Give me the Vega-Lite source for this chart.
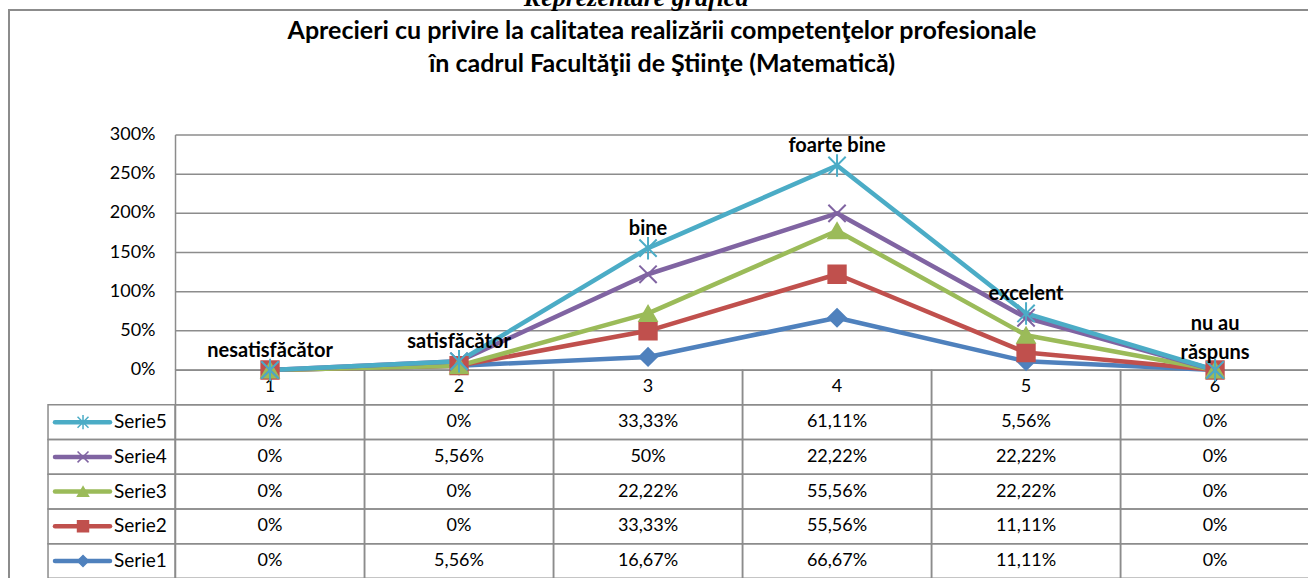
{
  "$schema": "https://vega.github.io/schema/vega-lite/v6.json",
  "width": 1300,
  "height": 570,
  "autosize": "none",
  "padding": {"left": 9, "top": 10, "right": 0, "bottom": 0},
  "background": "white",
  "title": {
    "text": ["Aprecieri cu privire la calitatea realizării competenţelor profesionale", "în cadrul Facultăţii de Ştiinţe (Matematică)"],
    "font": "Lato", "fontSize": 25, "fontWeight": "bold", "color": "#000000",
    "anchor": "middle", "offset": -92, "lineHeight": 33, "dx": 3
  },
  "datasets": {
    "d": [
      {"s": "Serie1", "n": 1, "c": 1, "cat": "nesatisfăcător", "v": 0},
      {"s": "Serie1", "n": 1, "c": 2, "cat": "satisfăcător", "v": 0.0556},
      {"s": "Serie1", "n": 1, "c": 3, "cat": "bine", "v": 0.1667},
      {"s": "Serie1", "n": 1, "c": 4, "cat": "foarte bine", "v": 0.6667},
      {"s": "Serie1", "n": 1, "c": 5, "cat": "excelent", "v": 0.1111},
      {"s": "Serie1", "n": 1, "c": 6, "cat": "nu au\nrăspuns", "v": 0},
      {"s": "Serie2", "n": 2, "c": 1, "cat": "nesatisfăcător", "v": 0},
      {"s": "Serie2", "n": 2, "c": 2, "cat": "satisfăcător", "v": 0},
      {"s": "Serie2", "n": 2, "c": 3, "cat": "bine", "v": 0.3333},
      {"s": "Serie2", "n": 2, "c": 4, "cat": "foarte bine", "v": 0.5556},
      {"s": "Serie2", "n": 2, "c": 5, "cat": "excelent", "v": 0.1111},
      {"s": "Serie2", "n": 2, "c": 6, "cat": "nu au\nrăspuns", "v": 0},
      {"s": "Serie3", "n": 3, "c": 1, "cat": "nesatisfăcător", "v": 0},
      {"s": "Serie3", "n": 3, "c": 2, "cat": "satisfăcător", "v": 0},
      {"s": "Serie3", "n": 3, "c": 3, "cat": "bine", "v": 0.2222},
      {"s": "Serie3", "n": 3, "c": 4, "cat": "foarte bine", "v": 0.5556},
      {"s": "Serie3", "n": 3, "c": 5, "cat": "excelent", "v": 0.2222},
      {"s": "Serie3", "n": 3, "c": 6, "cat": "nu au\nrăspuns", "v": 0},
      {"s": "Serie4", "n": 4, "c": 1, "cat": "nesatisfăcător", "v": 0},
      {"s": "Serie4", "n": 4, "c": 2, "cat": "satisfăcător", "v": 0.0556},
      {"s": "Serie4", "n": 4, "c": 3, "cat": "bine", "v": 0.5},
      {"s": "Serie4", "n": 4, "c": 4, "cat": "foarte bine", "v": 0.2222},
      {"s": "Serie4", "n": 4, "c": 5, "cat": "excelent", "v": 0.2222},
      {"s": "Serie4", "n": 4, "c": 6, "cat": "nu au\nrăspuns", "v": 0},
      {"s": "Serie5", "n": 5, "c": 1, "cat": "nesatisfăcător", "v": 0},
      {"s": "Serie5", "n": 5, "c": 2, "cat": "satisfăcător", "v": 0},
      {"s": "Serie5", "n": 5, "c": 3, "cat": "bine", "v": 0.3333},
      {"s": "Serie5", "n": 5, "c": 4, "cat": "foarte bine", "v": 0.6111},
      {"s": "Serie5", "n": 5, "c": 5, "cat": "excelent", "v": 0.0556},
      {"s": "Serie5", "n": 5, "c": 6, "cat": "nu au\nrăspuns", "v": 0}
    ],
    "ticks": [{"t": 0}, {"t": 0.5}, {"t": 1}, {"t": 1.5}, {"t": 2}, {"t": 2.5}, {"t": 3}],
    "cols": [{"c": 1, "h": "1"}, {"c": 2, "h": "2"}, {"c": 3, "h": "3"}, {"c": 4, "h": "4"}, {"c": 5, "h": "5"}, {"c": 6, "h": "6"}],
    "series": [{"s": "Serie1", "n": 1}, {"s": "Serie2", "n": 2}, {"s": "Serie3", "n": 3}, {"s": "Serie4", "n": 4}, {"s": "Serie5", "n": 5}]
  },
  "layer": [
    {
      "layer": [
        {
          "data": {"name": "d"},
          "mark": {"type": "rect", "width": 189, "height": 34.7, "fill": "#ffffff", "fillOpacity": 0, "stroke": "#8c8c8c", "strokeWidth": 1.5},
          "encoding": {
            "x": {"field": "c", "type": "quantitative", "scale": {"domain": [-0.381, 6.497], "nice": false, "zero": false}},
            "y": {"field": "n", "type": "quantitative", "scale": {"domain": [0.4524, 16.879], "nice": false, "zero": false}}
          }
        },
        {
          "data": {"name": "cols"},
          "mark": {"type": "rect", "width": 189, "height": 34.7, "fill": "#ffffff", "fillOpacity": 0, "stroke": "#8c8c8c", "strokeWidth": 1.5},
          "encoding": {
            "x": {"field": "c", "type": "quantitative", "scale": {"domain": [-0.381, 6.497], "nice": false, "zero": false}},
            "y": {"datum": 6, "scale": {"domain": [0.4524, 16.879], "nice": false, "zero": false}}
          }
        },
        {
          "data": {"name": "series"},
          "mark": {"type": "rect", "width": 127, "height": 34.7, "fill": "#ffffff", "fillOpacity": 0, "stroke": "#8c8c8c", "strokeWidth": 1.5},
          "encoding": {
            "x": {"datum": 0.1614, "scale": {"domain": [-0.381, 6.497], "nice": false, "zero": false}},
            "y": {"field": "n", "type": "quantitative", "scale": {"domain": [0.4524, 16.879], "nice": false, "zero": false}}
          }
        },
        {
          "data": {"name": "d"},
          "mark": {"type": "text", "font": "Lato", "fontSize": 18, "color": "#000000"},
          "encoding": {
            "x": {"field": "c", "type": "quantitative", "scale": {"domain": [-0.381, 6.497], "nice": false, "zero": false}},
            "y": {"field": "n", "type": "quantitative", "scale": {"domain": [0.4524, 16.879], "nice": false, "zero": false}},
            "text": {"field": "v", "type": "quantitative", "format": ".2~%"}
          }
        },
        {
          "data": {"name": "cols"},
          "mark": {"type": "text", "font": "Lato", "fontSize": 18, "color": "#000000"},
          "encoding": {
            "x": {"field": "c", "type": "quantitative", "scale": {"domain": [-0.381, 6.497], "nice": false, "zero": false}},
            "y": {"datum": 6, "scale": {"domain": [0.4524, 16.879], "nice": false, "zero": false}},
            "text": {"field": "h", "type": "nominal"}
          }
        },
        {
          "data": {"name": "series"},
          "mark": {"type": "rule", "strokeWidth": 4.5, "strokeCap": "round"},
          "encoding": {
            "x": {"datum": -0.1376, "scale": {"domain": [-0.381, 6.497], "nice": false, "zero": false}},
            "x2": {"datum": 0.1534},
            "y": {"field": "n", "type": "quantitative", "scale": {"domain": [0.4524, 16.879], "nice": false, "zero": false}},
            "color": {"field": "s", "type": "nominal", "scale": {"domain": ["Serie1", "Serie2", "Serie3", "Serie4", "Serie5"], "range": ["#4F81BD", "#C0504D", "#9BBB59", "#8064A2", "#4BACC6"]}}
          }
        },
        {
          "data": {"name": "series"},
          "mark": {"type": "point", "filled": true, "size": 120, "strokeWidth": 1.5, "opacity": 1},
          "encoding": {
            "x": {"datum": 0.0106, "scale": {"domain": [-0.381, 6.497], "nice": false, "zero": false}},
            "y": {"field": "n", "type": "quantitative", "scale": {"domain": [0.4524, 16.879], "nice": false, "zero": false}},
            "color": {"field": "s", "type": "nominal", "scale": {"domain": ["Serie1", "Serie2", "Serie3", "Serie4", "Serie5"], "range": ["#4F81BD", "#C0504D", "#9BBB59", "#8064A2", "#4BACC6"]}},
            "stroke": {"field": "s", "type": "nominal", "scale": {"domain": ["Serie1", "Serie2", "Serie3", "Serie4", "Serie5"], "range": ["#4F81BD", "#C0504D", "#9BBB59", "#8064A2", "#4BACC6"]}},
            "shape": {"field": "s", "type": "nominal", "scale": {"domain": ["Serie1", "Serie2", "Serie3", "Serie4", "Serie5"], "range": ["diamond", "square", "triangle-up", "M-1,-1L1,1M-1,1L1,-1", "M-1,-1L1,1M-1,1L1,-1M0,-1.3L0,1.3"]}}
          }
        },
        {
          "data": {"name": "series"},
          "mark": {"type": "text", "align": "left", "font": "Lato", "fontSize": 19, "color": "#000000"},
          "encoding": {
            "x": {"datum": 0.1746, "scale": {"domain": [-0.381, 6.497], "nice": false, "zero": false}},
            "y": {"field": "n", "type": "quantitative", "scale": {"domain": [0.4524, 16.879], "nice": false, "zero": false}},
            "text": {"field": "s", "type": "nominal"}
          }
        }
      ]
    },
    {
      "layer": [
        {
          "data": {"name": "ticks"},
          "mark": {"type": "rule", "color": "#8c8c8c", "strokeWidth": 1.5},
          "encoding": {
            "x": {"datum": 0.5, "scale": {"domain": [-0.381, 6.497], "nice": false, "zero": false}},
            "x2": {"datum": 6.7},
            "y": {"field": "t", "type": "quantitative", "scale": {"domain": [-2.681, 4.596], "nice": false, "zero": false}}
          }
        },
        {
          "data": {"name": "ticks"},
          "mark": {"type": "text", "align": "right", "dx": -20, "font": "Lato", "fontSize": 18, "color": "#000000"},
          "encoding": {
            "x": {"datum": 0.5, "scale": {"domain": [-0.381, 6.497], "nice": false, "zero": false}},
            "y": {"field": "t", "type": "quantitative", "scale": {"domain": [-2.681, 4.596], "nice": false, "zero": false}},
            "text": {"field": "t", "type": "quantitative", "format": ".0%"}
          }
        },
        {
          "data": {"name": "ticks"},
          "mark": {"type": "rule", "color": "#8c8c8c", "strokeWidth": 1.5},
          "encoding": {
            "x": {"datum": 0.5, "scale": {"domain": [-0.381, 6.497], "nice": false, "zero": false}},
            "y": {"aggregate": "min", "field": "t", "type": "quantitative", "scale": {"domain": [-2.681, 4.596], "nice": false, "zero": false}},
            "y2": {"aggregate": "max", "field": "t"}
          }
        },
        {
          "data": {"name": "d"},
          "mark": {"type": "line", "strokeWidth": 4.5, "strokeJoin": "round"},
          "encoding": {
            "x": {"field": "c", "type": "quantitative", "scale": {"domain": [-0.381, 6.497], "nice": false, "zero": false}},
            "y": {"field": "v", "type": "quantitative", "stack": "zero", "scale": {"domain": [-2.681, 4.596], "nice": false, "zero": false}},
            "order": {"field": "n", "type": "quantitative", "sort": "ascending"},
            "color": {"field": "s", "type": "nominal", "scale": {"domain": ["Serie1", "Serie2", "Serie3", "Serie4", "Serie5"], "range": ["#4F81BD", "#C0504D", "#9BBB59", "#8064A2", "#4BACC6"]}}
          }
        },
        {
          "data": {"name": "d"},
          "mark": {"type": "point", "filled": true, "size": 300, "strokeWidth": 2, "opacity": 1},
          "encoding": {
            "x": {"field": "c", "type": "quantitative", "scale": {"domain": [-0.381, 6.497], "nice": false, "zero": false}},
            "y": {"field": "v", "type": "quantitative", "stack": "zero", "scale": {"domain": [-2.681, 4.596], "nice": false, "zero": false}},
            "order": {"field": "n", "type": "quantitative", "sort": "ascending"},
            "color": {"field": "s", "type": "nominal", "scale": {"domain": ["Serie1", "Serie2", "Serie3", "Serie4", "Serie5"], "range": ["#4F81BD", "#C0504D", "#9BBB59", "#8064A2", "#4BACC6"]}},
            "stroke": {"field": "s", "type": "nominal", "scale": {"domain": ["Serie1", "Serie2", "Serie3", "Serie4", "Serie5"], "range": ["#4F81BD", "#C0504D", "#9BBB59", "#8064A2", "#4BACC6"]}},
            "shape": {"field": "s", "type": "nominal", "scale": {"domain": ["Serie1", "Serie2", "Serie3", "Serie4", "Serie5"], "range": ["diamond", "square", "triangle-up", "M-1,-1L1,1M-1,1L1,-1", "M-1,-1L1,1M-1,1L1,-1M0,-1.3L0,1.3"]}}
          }
        },
        {
          "data": {"name": "d"},
          "transform": [{"filter": "datum.c < 6"}],
          "mark": {"type": "text", "font": "Lato", "fontSize": 20, "fontWeight": "bold", "color": "#000000", "baseline": "bottom", "dy": -9},
          "encoding": {
            "x": {"field": "c", "type": "quantitative", "scale": {"domain": [-0.381, 6.497], "nice": false, "zero": false}},
            "y": {"aggregate": "sum", "field": "v", "type": "quantitative", "scale": {"domain": [-2.681, 4.596], "nice": false, "zero": false}},
            "text": {"field": "cat", "type": "nominal"}
          }
        },
        {
          "data": {"name": "d"},
          "transform": [{"filter": "datum.c == 6"}],
          "mark": {"type": "text", "font": "Lato", "fontSize": 20, "fontWeight": "bold", "color": "#000000", "baseline": "bottom", "dy": -36, "lineBreak": "\n", "lineHeight": 29},
          "encoding": {
            "x": {"field": "c", "type": "quantitative", "scale": {"domain": [-0.381, 6.497], "nice": false, "zero": false}},
            "y": {"aggregate": "sum", "field": "v", "type": "quantitative", "scale": {"domain": [-2.681, 4.596], "nice": false, "zero": false}},
            "text": {"field": "cat", "type": "nominal"}
          }
        },
        {
          "data": {"values": [{"t": "Reprezentare grafică"}]},
          "mark": {"type": "text", "font": "Liberation Serif", "fontSize": 26, "fontWeight": "bold", "fontStyle": "italic", "color": "#000000", "baseline": "alphabetic"},
          "encoding": {
            "x": {"datum": 2.937, "scale": {"domain": [-0.381, 6.497], "nice": false, "zero": false}},
            "y": {"datum": 4.647, "scale": {"domain": [-2.681, 4.596], "nice": false, "zero": false}},
            "text": {"field": "t", "type": "nominal"}
          }
        }
      ]
    }
  ],
  "resolve": {"scale": {"y": "independent"}},
  "config": {
    "view": {"stroke": "#8c8c8c", "strokeWidth": 2},
    "axis": {"disable": true},
    "legend": {"disable": true},
    "locale": {"number": {"decimal": ",", "thousands": ".", "grouping": [3], "currency": ["", " lei"]}}
  }
}
